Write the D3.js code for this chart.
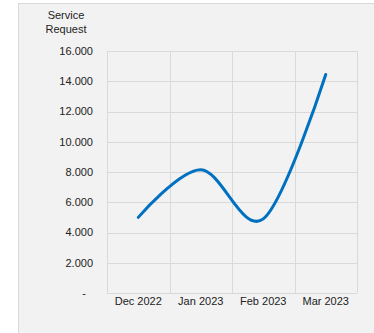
<!DOCTYPE html>
<html>
<head>
<meta charset="utf-8">
<script src="https://cdn.jsdelivr.net/npm/d3@7"></script>
<style>
  body { margin: 0; background: #fff; }
  svg { display: block; font-family: "Liberation Sans", Arial, sans-serif; }
</style>
</head>
<body>
<script>
const months = ["Dec 2022", "Jan 2023", "Feb 2023", "Mar 2023"];
const requests = [5000, 8150, 4900, 14450];
const yTicks = [0, 2000, 4000, 6000, 8000, 10000, 12000, 14000, 16000];

const wb = 374, hb = 333;
const margin = { top: 51, right: 17, bottom: 40, left: 107 };
const width = wb - margin.left - margin.right;
const height = hb - margin.top - margin.bottom;

const svg = d3.select("body").append("svg")
    .attr("width", wb)
    .attr("height", hb);

// chart panel
svg.append("rect")
    .attr("x", 18.5).attr("y", 3.5)
    .attr("width", wb).attr("height", hb)
    .attr("fill", "#f2f2f2")
    .attr("stroke", "#d9d9d9");

const g = svg.append("g")
    .attr("transform", `translate(${margin.left}, ${margin.top})`);

const x = d3.scaleBand().domain(months).range([0, width]);
const y = d3.scaleLinear().domain([0, 16000]).range([height, 0]);

// gridlines
g.append("g").selectAll("line.h")
    .data(yTicks)
    .join("line")
    .attr("x1", 0).attr("x2", width)
    .attr("y1", d => Math.round(y(d)) + 0.5)
    .attr("y2", d => Math.round(y(d)) + 0.5)
    .attr("stroke", "#d9d9d9");
g.append("g").selectAll("line.v")
    .data(months.map(m => x(m)).concat([width]))
    .join("line")
    .attr("x1", d => Math.round(d) + 0.5).attr("x2", d => Math.round(d) + 0.5)
    .attr("y1", 0).attr("y2", height)
    .attr("stroke", "#d9d9d9");

// y axis labels
const fmt = d => d === 0 ? "-" : d3.format(",")(d).replace(/,/g, ".").replace(/(\d)$/, "$1") ;
g.append("g").selectAll("text")
    .data(yTicks)
    .join("text")
    .attr("x", d => d === 0 ? -21 : -14)
    .attr("y", d => y(d))
    .attr("dy", "0.35em")
    .attr("text-anchor", "end")
    .attr("font-size", 11)
    .attr("fill", "#222")
    .text(d => d === 0 ? "-" : d3.format(",.0f")(d).replace(/,/g, ".") + (d >= 1000 ? "" : ""));

// x axis labels
g.append("g").selectAll("text")
    .data(months)
    .join("text")
    .attr("x", d => x(d) + x.bandwidth() / 2)
    .attr("y", height + 12)
    .attr("text-anchor", "middle")
    .attr("font-size", 11)
    .attr("fill", "#222")
    .text(d => d);

// title
svg.append("text")
    .attr("x", 66).attr("y", 19)
    .attr("text-anchor", "middle")
    .attr("font-size", 11)
    .attr("fill", "#222")
    .selectAll("tspan")
    .data(["Service", "Request"])
    .join("tspan")
    .attr("x", 66)
    .attr("dy", (d, i) => i === 0 ? 0 : 14)
    .text(d => d);

// line
const line = d3.line()
    .x((d, i) => x(months[i]) + x.bandwidth() / 2)
    .y(d => y(d))
    .curve(d3.curveCardinal.tension(0));
g.append("path")
    .datum(requests)
    .attr("d", line)
    .attr("fill", "none")
    .attr("stroke", "#0070c0")
    .attr("stroke-width", 3)
    .attr("stroke-linecap", "round");
</script>
</body>
</html>
